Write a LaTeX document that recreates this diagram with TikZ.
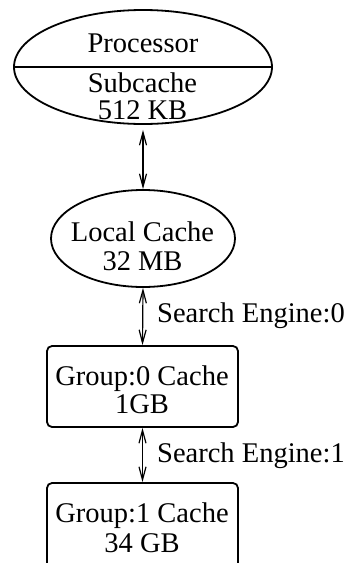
\documentclass[tikz,border=0pt]{standalone}
\usepackage{fontspec}
\setmainfont{Liberation Serif}
\usetikzlibrary{shapes.geometric,arrows.meta}
\tikzset{
  shapeline/.style={draw=black, line width=1.8pt, inner sep=0pt},
  ell/.style={shapeline, ellipse},
  cachebox/.style={shapeline, rectangle, rounded corners=5pt},
  txt/.style={inner sep=0pt, anchor=base, font=\fontsize{28.5}{29}\selectfont},
  conn/.style={line width=1.2pt, {Straight Barb[length=13pt,width=7pt]}-{Straight Barb[length=13pt,width=7pt]}},
}
\begin{document}
\begin{tikzpicture}[x=1pt,y=-1pt]
\useasboundingbox (0,0) rectangle (347,563);
\clip (0,0) rectangle (347,563);
% shapes
\node[ell, minimum width=258pt, minimum height=114pt] (proc) at (143,67) {};
\draw[line width=1.8pt] (proc.west) -- (proc.east);
\node[ell, minimum width=184pt, minimum height=97pt] (lc) at (143,238.5) {};
\node[cachebox, minimum width=191pt, minimum height=81pt] (g0) at (142.5,386.5) {};
\node[cachebox, minimum width=191pt, minimum height=100pt] (g1) at (142.5,533) {};
% texts
\node[txt] (tproc) at (143,52) {Processor};
\node[txt] (tsub) at (142.5,92) {Subcache};
\node[txt] (tsubs) at (142.5,119) {512 KB};
\node[txt] (tlc) at (142.5,241) {Local Cache};
\node[txt] (tlcs) at (142.5,270) {32 MB};
\node[txt] (tg0) at (142,385) {Group:0 Cache};
\node[txt] (tg0s) at (142,413) {1GB};
\node[txt] (tg1) at (142,522) {Group:1 Cache};
\node[txt] (tg1s) at (142,552) {34 GB};
% connectors
\draw[conn, shorten <=5pt] (proc.south) -- (lc.north);
\draw[conn] (lc.south) -- (g0.north);
\draw[conn] (g0.south) -- (g1.north);
% labels
\node[txt, anchor=base west] (se0) at (157,322) {Search Engine:0};
\node[txt, anchor=base west] (se1) at (157,462) {Search Engine:1};
\end{tikzpicture}
\end{document}
